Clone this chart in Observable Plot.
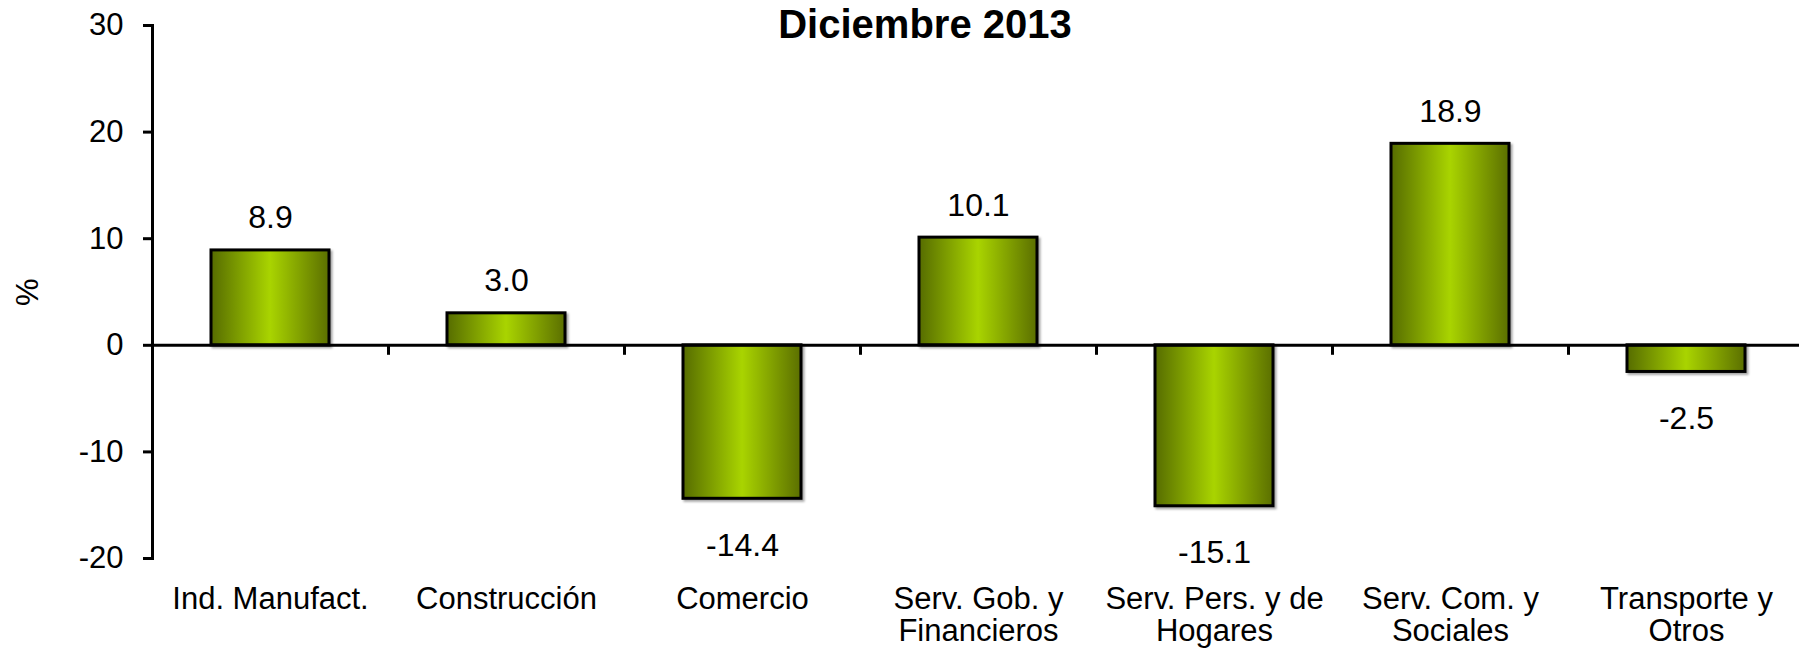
<!DOCTYPE html>
<html>
<head>
<meta charset="utf-8">
<script src="https://cdn.jsdelivr.net/npm/d3@7"></script>
<script src="https://cdn.jsdelivr.net/npm/@observablehq/plot@0.6"></script>
<style>
  html, body { margin: 0; padding: 0; background: #fff; }
  #wrap { position: relative; width: 1799px; height: 651px; font-family: "Liberation Sans", Arial, sans-serif; }
  #title { position: absolute; left: 0; top: 4px; width: 1850px; text-align: center; font-weight: bold; font-size: 40px; line-height: 1; color: #000; }
</style>
</head>
<body>
<div id="wrap">
  <div id="chart"></div>
  <div id="title">Diciembre 2013</div>
</div>
<script>
const categories = ["Ind. Manufact.", "Construcción", "Comercio", "Serv. Gob. y\nFinancieros", "Serv. Pers. y de\nHogares", "Serv. Com. y\nSociales", "Transporte y\nOtros"];
const values = [8.9, 3.0, -14.4, 10.1, -15.1, 18.9, -2.5];
const yTicks = [-20, -10, 0, 10, 20, 30];
const yLabel = "%";

const data = categories.map((c, i) => ({cat: c, value: values[i]}));

const chart = Plot.plot({
  width: 1799,
  height: 651,
  marginLeft: 152,
  marginRight: 0,
  marginTop: 25,
  marginBottom: 93,
  style: {fontFamily: "Liberation Sans, Arial, sans-serif", color: "#000", background: "#fff"},
  x: {domain: categories, range: [152, 1804], paddingInner: 0.5, paddingOuter: 0.25},
  y: {domain: [-20, 30]},
  marks: [
    Plot.barY(data, {x: "cat", y: "value", fill: "url(#barGrad)", stroke: "#000", strokeWidth: 3}),
    Plot.ruleY([0], {stroke: "#000", strokeWidth: 3}),
    Plot.ruleX(categories, {x: d => d, y1: 0, y2: 0, insetBottom: -10, dx: -118, stroke: "#000", strokeWidth: 3}),
    Plot.frame({anchor: "left", stroke: "#000", strokeWidth: 3}),
    Plot.axisY({ticks: yTicks, tickSize: 9, tickPadding: 20, fontSize: 31, strokeWidth: 3, label: null, tickFormat: d => String(d)}),
    Plot.axisX({tickSize: 0, tickPadding: 27.5, fontSize: 31, lineHeight: 1.04, label: null}),
    Plot.text(data.filter(d => d.value >= 0), {x: "cat", y: "value", text: d => d.value.toFixed(1), lineAnchor: "bottom", dy: -22, fontSize: 32, fill: "#000"}),
    Plot.text(data.filter(d => d.value < 0), {x: "cat", y: "value", text: d => d.value.toFixed(1), lineAnchor: "bottom", dy: 57, fontSize: 32, fill: "#000"}),
    Plot.text([yLabel], {frameAnchor: "left", dx: -124, dy: 14, rotate: -90, fontSize: 31, fill: "#000"})
  ]
});

const svg = d3.select(chart);
const defs = svg.insert("defs", ":first-child");
const g = defs.append("linearGradient").attr("id", "barGrad").attr("x1", "0%").attr("x2", "100%").attr("y1", "0%").attr("y2", "0%");
g.append("stop").attr("offset", "0%").attr("stop-color", "#566c00");
g.append("stop").attr("offset", "50%").attr("stop-color", "#a9d400");
g.append("stop").attr("offset", "100%").attr("stop-color", "#5b6f00");
svg.selectAll('g[aria-label="bar"]').style("filter", "drop-shadow(2px 2px 1px rgba(0,0,0,0.35))");

document.getElementById("chart").appendChild(chart);
</script>
</body>
</html>
